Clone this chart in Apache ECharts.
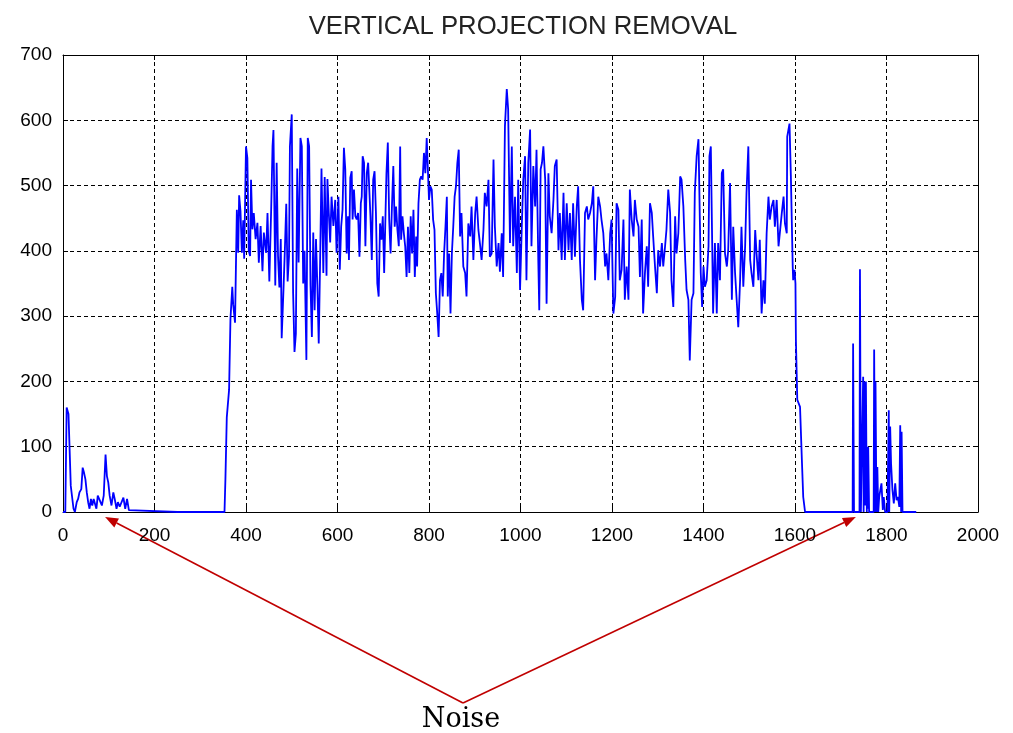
<!DOCTYPE html>
<html>
<head>
<meta charset="utf-8">
<script src="https://cdn.jsdelivr.net/npm/echarts@6/dist/echarts.min.js"></script>
<style>
  html, body { margin: 0; padding: 0; background: #fff; }
  #chart { width: 1013px; height: 733px; }
</style>
</head>
<body>
<div id="chart"></div>
<script>
// axis ticks
var xTicks = { min: 0, max: 2000, step: 200 };
var yTicks = { min: 0, max: 700, step: 100 };

// projection values, [column, sum]
var leftNoise = [[0,0],[5,0],[8,160],[12,150],[15,150],[17,40],[20,40],[23,5],[26,0],[30,15],[33,20],[36,30],[40,35],[43,68],[46,60],[49,50],[52,30],[55,15],[58,5],[61,20],[64,10],[67,20],[70,20],[73,5],[76,25],[79,20],[82,15],[85,10],[89,25],[93,88],[96,55],[99,45],[102,25],[106,10],[110,30],[113,20],[117,5],[120,15],[124,8],[128,10],[132,22],[136,5],[140,20],[144,3],[148,0],[250,0],[353,0]];

var rise = [[355,50],[358,145],[363,187],[366,295],[370,345],[372,318],[374,317],[376,290],[380,463],[383,397],[385,485],[388,460],[391,397],[394,447],[396,388]];

var body1 = [[400,560],[403,542],[406,400],[409,392],[411,509],[414,433],[417,458],[421,418],[425,443],[428,382],[432,438],[436,369],[439,428],[444,397],[447,458],[451,353],[455,463],[458,560],[460,585],[464,347],[467,535],[470,392],[473,344],[476,418],[478,266],[482,342],[485,403],[488,472],[491,353],[494,392],[496,560],[500,609],[503,335],[506,245],[509,273],[512,526],[515,382],[519,573],[522,560],[525,350],[528,400],[532,233],[535,573],[538,560],[541,347],[544,268],[547,428],[550,309],[553,418],[556,347],[559,258],[562,385],[565,526],[569,366],[572,513],[576,362],[578,510],[581,458],[584,413],[587,483],[591,438],[595,478],[598,397],[602,483]];

var body2 = [[605,371],[608,437],[611,463],[614,558],[617,525],[620,396],[623,453],[625,386],[628,512],[631,522],[633,448],[636,494],[639,453],[642,448],[645,458],[648,391],[651,473],[653,483],[655,545],[658,535],[661,407],[664,519],[667,535],[670,537],[672,453],[675,386],[678,509],[681,522],[684,458],[687,350],[690,330],[693,442],[696,417],[699,453],[702,366],[705,458],[707,519],[710,566],[713,448],[716,396],[719,468],[722,530],[725,437],[728,468],[731,432],[734,407],[737,560],[739,417],[742,453],[745,427],[748,407],[751,360],[754,437],[757,366],[760,453],[763,396],[766,463],[769,360],[772,422],[774,376],[777,473],[780,509],[783,514],[786,509],[789,550],[792,519],[795,573],[798,573],[800,478],[803,499],[806,494],[809,448],[812,432],[815,335],[818,304],[821,268],[824,355],[827,366],[830,330],[833,396],[836,437],[839,483],[841,330],[844,396],[847,304],[850,396],[853,437],[856,483],[859,499],[862,535],[865,555]];

var body3 = [[868,422],[871,458],[875,376],[879,366],[882,330],[886,442],[890,422],[893,468],[897,386],[901,458],[904,483],[908,432],[912,407],[915,386],[919,432],[922,489],[926,468],[930,509],[933,391],[937,396],[941,540],[944,437],[948,376],[952,412],[955,368],[959,427],[962,360],[966,591],[970,648],[973,617],[977,412],[981,560],[984,407],[988,483],[992,366],[995,509],[999,340],[1003,442],[1006,509],[1010,545],[1013,355],[1017,535],[1021,586],[1024,407],[1028,530],[1032,468],[1035,555],[1039,381],[1041,309],[1044,525],[1047,535],[1050,560],[1054,509],[1057,319],[1061,519],[1064,453],[1068,427],[1072,478],[1075,530],[1079,540],[1083,401],[1086,458],[1090,386],[1094,489],[1097,386],[1101,473],[1105,401],[1108,458],[1112,386],[1115,473],[1119,391],[1123,468],[1126,499]];

var body4 = [[1130,386],[1134,325],[1137,309],[1141,458],[1145,468],[1148,448],[1152,458],[1156,473],[1159,499],[1163,355],[1166,417],[1170,483],[1174,468],[1177,448],[1181,427],[1185,376],[1188,396],[1192,355],[1196,427],[1199,448],[1203,304],[1207,330],[1210,473],[1214,463],[1217,355],[1221,371],[1225,448],[1228,325],[1232,376],[1236,325],[1239,494],[1243,448],[1247,422],[1250,478],[1254,448],[1258,437],[1261,360],[1265,448],[1268,304],[1272,366],[1276,407],[1279,345],[1283,473],[1287,458],[1290,422],[1294,376],[1298,335],[1301,401],[1305,376],[1309,412],[1312,376],[1316,407],[1319,432],[1323,494],[1327,458],[1330,355],[1334,314],[1338,453],[1341,396],[1345,427],[1349,514],[1352,509],[1356,468],[1360,386],[1363,340],[1367,325],[1370,232],[1374,325],[1378,335],[1381,489],[1385,545],[1389,571]];

var body5 = [[1394,366],[1397,314],[1400,376],[1403,345],[1407,355],[1411,407],[1413,545],[1416,560],[1419,412],[1421,304],[1425,412],[1429,304],[1432,412],[1436,355],[1440,519],[1443,525],[1447,396],[1451,376],[1454,401],[1458,504],[1462,325],[1465,437],[1469,366],[1472,366],[1476,283],[1480,355],[1483,437],[1487,345],[1491,407],[1494,489],[1498,560],[1502,386],[1505,366],[1509,345],[1513,432],[1516,396],[1520,355],[1523,417],[1527,304],[1531,355],[1534,319],[1538,427],[1542,483],[1545,448],[1549,468],[1553,478],[1556,437],[1560,478],[1564,407]];

var fall = [[1567,406],[1571,457],[1575,483],[1578,442],[1582,427],[1583,575],[1585,575],[1588,595],[1591,514],[1593,514],[1595,376],[1596,355],[1599,371],[1601,350],[1602,263],[1605,172],[1608,172],[1611,161],[1615,80],[1618,23],[1622,0]];

var rightNoise = [[1726,0],[1727,258],[1729,0],[1741,0],[1742,372],[1744,0],[1748,0],[1749,207],[1750,0],[1751,200],[1752,20],[1753,200],[1754,10],[1755,200],[1756,100],[1757,0],[1758,100],[1759,5],[1760,100],[1762,0],[1772,0],[1773,249],[1775,0],[1776,200],[1777,200],[1778,0],[1780,69],[1782,0],[1784,23],[1786,23],[1789,44],[1792,3],[1794,23],[1797,0],[1802,0],[1805,156],[1806,0],[1808,131],[1810,74],[1813,34],[1816,13],[1819,44],[1822,18],[1825,23],[1828,8],[1830,133],[1832,0],[1833,123],[1835,0],[1865,0]];

// annotation
var noiseLabel = 'Noise';
var noiseTargets = [92, 1733];

var projection = [].concat(leftNoise, rise, body1, body2, body3, body4, body5, fall, rightNoise);

var chart = echarts.init(document.getElementById('chart'), null, { renderer: 'canvas' });

var dashed = { show: true, lineStyle: { color: '#000', width: 1, type: [4, 3] } };
var tickIn = { show: true, inside: true, length: 5, lineStyle: { color: '#000' } };
var lineBlack = { show: true, onZero: false, lineStyle: { color: '#000', width: 1 } };
var labelFont = { color: '#000', fontSize: 19, fontFamily: 'Liberation Sans, Arial, sans-serif' };
var plain = function (v) { return String(v); };

var option = {
  animation: false,
  backgroundColor: '#fff',
  title: {
    text: 'VERTICAL PROJECTION REMOVAL',
    left: 518,
    textAlign: 'center',
    top: 9,
    textStyle: { color: '#222', fontSize: 25.7, fontWeight: 'normal', fontFamily: 'Liberation Sans, Arial, sans-serif' }
  },
  grid: { left: 63, right: 35, top: 55, bottom: 221 },
  xAxis: [
    {
      type: 'value', min: xTicks.min, max: xTicks.max, interval: xTicks.step,
      axisLine: lineBlack, axisTick: tickIn, splitLine: dashed,
      axisLabel: Object.assign({ margin: 14, formatter: plain }, labelFont),
      z: 1
    },
    {
      type: 'value', position: 'top', min: xTicks.min, max: xTicks.max, interval: xTicks.step,
      axisLine: lineBlack, axisTick: tickIn, splitLine: { show: false }, axisLabel: { show: false }
    }
  ],
  yAxis: [
    {
      type: 'value', min: yTicks.min, max: yTicks.max, interval: yTicks.step,
      axisLine: lineBlack, axisTick: tickIn, splitLine: dashed,
      axisLabel: Object.assign({ margin: 11, formatter: plain }, labelFont)
    },
    {
      type: 'value', position: 'right', min: yTicks.min, max: yTicks.max, interval: yTicks.step,
      axisLine: lineBlack, axisTick: tickIn, splitLine: { show: false }, axisLabel: { show: false }
    }
  ],
  series: [
    {
      type: 'line',
      xAxisIndex: 0,
      yAxisIndex: 0,
      data: projection,
      showSymbol: false,
      symbol: 'none',
      lineStyle: { color: '#0000ff', width: 1.8 },
      z: 5
    }
  ]
};

chart.setOption(option);

// arrows from the label up to the two noise bursts
function arrowParts(apex, tip, color) {
  var dx = tip[0] - apex[0], dy = tip[1] - apex[1];
  var len = Math.sqrt(dx * dx + dy * dy);
  var ux = dx / len, uy = dy / len;
  var nx = -uy, ny = ux;
  var headLen = 13, headHalf = 5;
  var bx = tip[0] - ux * headLen, by = tip[1] - uy * headLen;
  return [
    { type: 'line', shape: { x1: apex[0], y1: apex[1], x2: bx, y2: by }, style: { stroke: color, lineWidth: 1.6 } },
    { type: 'polygon', shape: { points: [tip, [bx + nx * headHalf, by + ny * headHalf], [bx - nx * headHalf, by - ny * headHalf]] }, style: { fill: color } }
  ];
}

var origin = chart.convertToPixel({ xAxisIndex: 0, yAxisIndex: 0 }, [870, 0]);
var apex = [origin[0] + 2, origin[1] + 191];
var arrowColor = '#c00000';
var parts = [];
noiseTargets.forEach(function (t) {
  var p = chart.convertToPixel({ xAxisIndex: 0, yAxisIndex: 0 }, [t, 0]);
  parts = parts.concat(arrowParts(apex, [p[0], p[1] + 5], arrowColor));
});
parts.push({
  type: 'text',
  x: apex[0] - 2,
  y: apex[1] + 17,
  style: { text: noiseLabel, fill: '#000', font: '27px "DejaVu Serif", serif', align: 'center', verticalAlign: 'middle' }
});

chart.setOption({ graphic: parts });
</script>
</body>
</html>
